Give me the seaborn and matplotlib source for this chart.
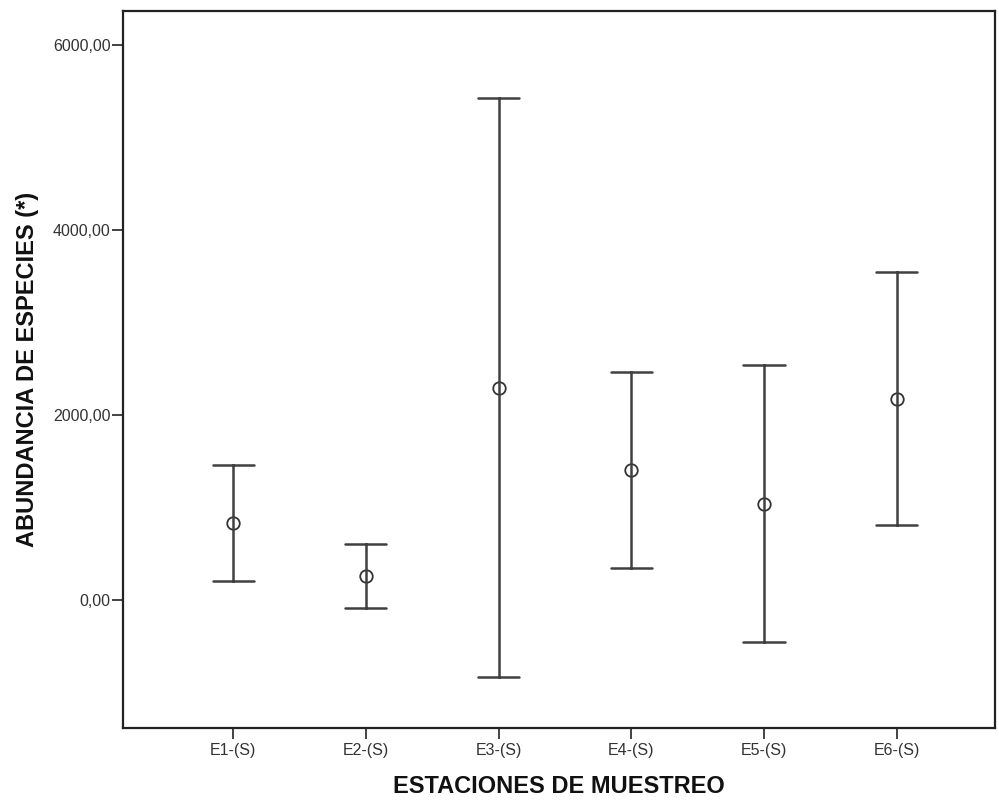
import matplotlib
matplotlib.use("Agg")
import matplotlib.pyplot as plt
import seaborn as sns
import pandas as pd
from matplotlib import font_manager

stations = ["E1-(S)", "E2-(S)", "E3-(S)", "E4-(S)", "E5-(S)", "E6-(S)"]
lower = [205, -86, -832, 346, -454, 811]
means = [832, 259, 2292, 1405, 1038, 2173]
upper = [1459, 605, 5427, 2465, 2541, 3546]
yticks = [0, 2000, 4000, 6000]
ytick_labels = ["0,00", "2000,00", "4000,00", "6000,00"]

sns.set_style("white")
avail = {f.name for f in font_manager.fontManager.ttflist}
fam = [f for f in ["Liberation Sans Narrow", "Liberation Sans", "DejaVu Sans"] if f in avail]
plt.rcParams["font.family"] = fam

rows = []
for s, lo, m, hi in zip(stations, lower, means, upper):
    for v in (lo, m, hi):
        rows.append({"station": s, "value": v})
df = pd.DataFrame(rows)

fig = plt.figure(figsize=(9.99, 8.02), dpi=100)
ax = fig.add_axes([123 / 999, 1 - 728 / 802, (995 - 123) / 999, (728 - 11) / 802])

sns.pointplot(data=df, x="station", y="value", order=stations,
              estimator="median", errorbar=("pi", 100),
              linestyle="none", markers="o", color="#333333",
              capsize=0.31, markersize=9, markeredgewidth=1.3,
              markerfacecolor="none", markeredgecolor="#333333",
              err_kws={"linewidth": 1.8, "color": "#404040"}, ax=ax)

ax.set_xlim(-0.83, 5.74)
ax.set_ylim(-1384, 6368)
ax.set_yticks(yticks)
ax.set_yticklabels(ytick_labels)

for sp in ax.spines.values():
    sp.set_visible(True)
    sp.set_color("#222222")
    sp.set_linewidth(1.6)

ax.tick_params(axis="both", which="major", direction="out", length=8,
               width=1.2, color="#222222", labelsize=11.5, labelcolor="#333333",
               left=True, bottom=True, pad=3)
ax.tick_params(axis="y", pad=1)

ax.set_xlabel("ESTACIONES DE MUESTREO", fontsize=17, fontweight="bold",
              color="#111111", labelpad=12)
ax.set_ylabel("ABUNDANCIA DE ESPECIES (*)", fontsize=17, fontweight="bold",
              color="#111111", labelpad=10)

fig.savefig("out.png", dpi=100)
